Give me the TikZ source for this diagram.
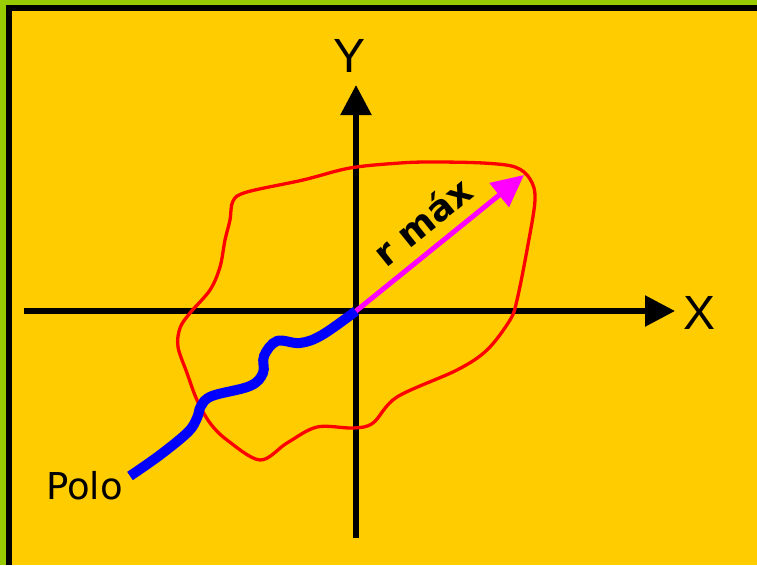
\documentclass[tikz,border=0pt]{standalone}
\usepackage{fontspec}
\setmainfont{Liberation Sans}
\newfontfamily\labelfont{DejaVu Sans}
\usetikzlibrary{arrows.meta}
\definecolor{bgyellow}{HTML}{FFCC00}
\definecolor{bordergreen}{HTML}{99CC00}
\definecolor{curvered}{HTML}{FF0000}
\definecolor{polblue}{HTML}{0000FF}
\definecolor{radmag}{HTML}{FF00FF}
\tikzset{
  axisline/.style={line width=5.5pt, black, -{Triangle[length=30pt,width=30pt]}},
  axislabel/.style={font=\fontsize{48}{48}\selectfont, inner sep=0pt},
  regioncurve/.style={line width=3.3pt, curvered},
  polopath/.style={line width=10pt, polblue},
  radius/.style={line width=5pt, radmag, -{Triangle[length=32pt,width=30pt]}},
  textlabel/.style={font=\labelfont\fontsize{37}{37}\selectfont, inner sep=0pt},
}
\begin{document}
\begin{tikzpicture}[x=1pt,y=-1pt]
\useasboundingbox (0,0) rectangle (757,565);
% background and frame
\fill[bordergreen] (0,0) rectangle (757,565);
\fill[black] (6,5) rectangle (757,565);
\fill[bgyellow] (12,11) rectangle (757,565);
% coordinates
\coordinate (O) at (356,311);
\coordinate (xstart) at (24,311);
\coordinate (xend) at (675,311);
\coordinate (ystart) at (356,538);
\coordinate (yend) at (356,85);
\coordinate (rtip) at (524,175);
\coordinate (pstart) at (130,476);
% axes
\draw[axisline] (xstart) -- (xend);
\draw[axisline] (ystart) -- (yend);
\node[axislabel] (X) at (699,313) {X};
\node[axislabel] (Y) at (350,56) {Y};
% region boundary
\draw[regioncurve] plot[smooth cycle, tension=0.55] coordinates {
 (350,168) (303,180) (247,192) (233,201) (230,220) (225,240) (220,267)
 (210,290) (190,313) (180,328) (178,347) (187,373) (197,400) (210,423)
 (227,440) (260,460) (287,443) (317,427) (353,428) (373,423) (397,397)
 (457,370) (487,350) (510,320) (517,300) (527,250) (535,200) (530,179)
 (515,167) (483,163) (433,162) (400,163)};
% blue path from pole
\draw[polopath] plot[smooth, tension=0.6] coordinates {
 (pstart) (160,455) (188,432) (197,418) (201,406) (212,396) (250,386)
 (263,373) (264,356) (277,341) (300,343) (322,335) (O)};
% radius arrow
\draw[radius] (O) -- (rtip);
\node[textlabel, font=\labelfont\bfseries\fontsize{36}{36}\selectfont, rotate=39] (rmax) at (422,221) {r máx};
\node[textlabel, anchor=east] (polo) at (123,486) {Polo};
\end{tikzpicture}
\end{document}
